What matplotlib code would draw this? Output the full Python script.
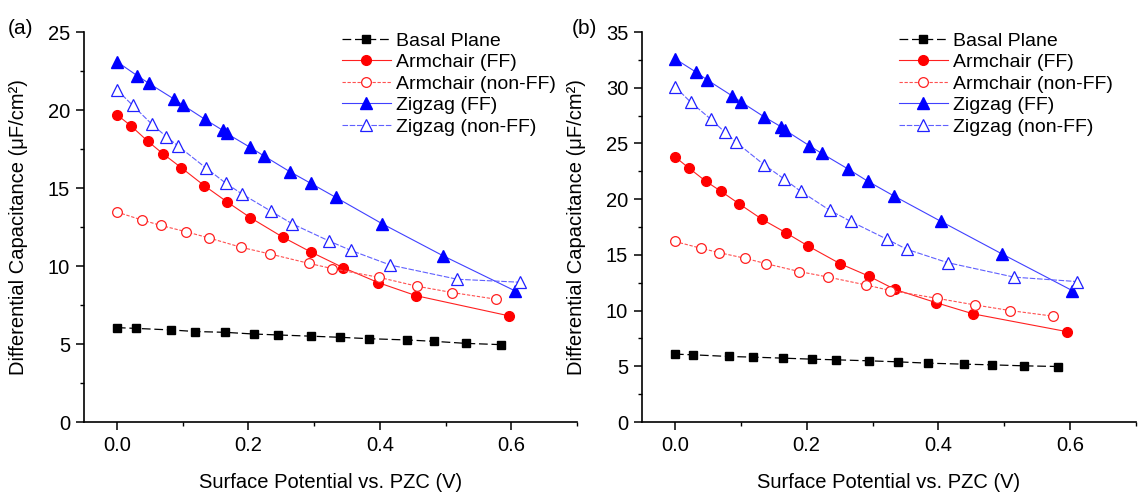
import matplotlib
matplotlib.use("Agg")
import matplotlib.pyplot as plt
from matplotlib.ticker import MultipleLocator

plt.rcParams['font.family'] = ['Liberation Sans', 'DejaVu Sans']

# ---------------- Panel (a) ----------------
basal_a_x = [0.000, 0.029, 0.083, 0.119, 0.164, 0.208, 0.245, 0.296, 0.339, 0.384, 0.441, 0.483, 0.531, 0.584]
basal_a_y = [6.05, 6.00, 5.90, 5.80, 5.75, 5.64, 5.58, 5.50, 5.43, 5.34, 5.26, 5.17, 5.04, 4.96]

armff_a_x = [0.000, 0.021, 0.047, 0.070, 0.098, 0.133, 0.168, 0.203, 0.252, 0.295, 0.344, 0.398, 0.455, 0.597]
armff_a_y = [19.7, 19.0, 18.0, 17.2, 16.3, 15.15, 14.1, 13.1, 11.86, 10.9, 9.9, 8.93, 8.1, 6.8]

armnff_a_x = [0.000, 0.038, 0.067, 0.105, 0.140, 0.189, 0.233, 0.292, 0.328, 0.399, 0.457, 0.510, 0.577]
armnff_a_y = [13.46, 12.95, 12.6, 12.2, 11.8, 11.2, 10.77, 10.17, 9.83, 9.27, 8.7, 8.3, 7.87]

zzff_a_x = [0.000, 0.031, 0.049, 0.087, 0.101, 0.134, 0.161, 0.167, 0.203, 0.224, 0.263, 0.295, 0.333, 0.404, 0.496, 0.606]
zzff_a_y = [23.1, 22.2, 21.7, 20.7, 20.3, 19.4, 18.7, 18.5, 17.6, 17.05, 16.05, 15.3, 14.4, 12.7, 10.66, 8.4]

zznff_a_x = [0.000, 0.024, 0.053, 0.075, 0.093, 0.135, 0.166, 0.191, 0.235, 0.267, 0.323, 0.356, 0.416, 0.518, 0.613]
zznff_a_y = [21.3, 20.3, 19.1, 18.3, 17.7, 16.3, 15.3, 14.6, 13.5, 12.7, 11.6, 11.0, 10.06, 9.15, 8.96]

# ---------------- Panel (b) ----------------
basal_b_x = [0.000, 0.028, 0.082, 0.119, 0.164, 0.208, 0.245, 0.295, 0.338, 0.384, 0.439, 0.481, 0.530, 0.582]
basal_b_y = [6.09, 6.03, 5.88, 5.82, 5.73, 5.64, 5.58, 5.49, 5.40, 5.28, 5.19, 5.13, 5.04, 4.98]

armff_b_x = [0.000, 0.021, 0.047, 0.070, 0.097, 0.132, 0.168, 0.202, 0.251, 0.294, 0.334, 0.397, 0.453, 0.596]
armff_b_y = [23.8, 22.8, 21.6, 20.7, 19.6, 18.2, 17.0, 15.8, 14.2, 13.1, 11.9, 10.7, 9.7, 8.1]

armnff_b_x = [0.000, 0.039, 0.067, 0.106, 0.139, 0.189, 0.233, 0.290, 0.327, 0.398, 0.456, 0.509, 0.574]
armnff_b_y = [16.2, 15.6, 15.2, 14.7, 14.2, 13.5, 13.0, 12.3, 11.8, 11.1, 10.5, 10.0, 9.5]

zzff_b_x = [0.000, 0.032, 0.049, 0.086, 0.101, 0.135, 0.161, 0.167, 0.204, 0.223, 0.263, 0.293, 0.332, 0.404, 0.496, 0.603]
zzff_b_y = [32.6, 31.4, 30.7, 29.3, 28.7, 27.4, 26.5, 26.2, 24.8, 24.1, 22.7, 21.6, 20.3, 18.0, 15.1, 11.8]

zznff_b_x = [0.000, 0.024, 0.054, 0.076, 0.093, 0.135, 0.166, 0.191, 0.235, 0.267, 0.322, 0.352, 0.414, 0.515, 0.611]
zznff_b_y = [30.1, 28.7, 27.2, 26.0, 25.1, 23.1, 21.8, 20.7, 19.0, 18.0, 16.4, 15.5, 14.3, 13.0, 12.6]

series_names = ["Basal Plane", "Armchair (FF)", "Armchair (non-FF)", "Zigzag (FF)", "Zigzag (non-FF)"]
x_label = "Surface Potential vs. PZC (V)"
y_label = "Differential Capacitance (\u03bcF/cm\u00b2)"

styles = [
    dict(color='black', marker='s', mfc='black', mec='black', ms=6, ls=(0, (7, 3)), lw=0.9),
    dict(color='#ff2020', marker='o', mfc='#ff0000', mec='#ff0000', ms=7, ls='-', lw=0.8),
    dict(color='#ff5050', marker='o', mfc='white', mec='#ff2020', ms=7, ls=(0, (3, 1.5)), lw=0.8, mew=0.9),
    dict(color='#4040ff', marker='^', mfc='#0000ff', mec='#0000ff', ms=8, ls='-', lw=0.8),
    dict(color='#6060ff', marker='^', mfc='white', mec='#2020ff', ms=8, ls=(0, (5, 1.5)), lw=0.8, mew=0.9),
]

fig = plt.figure(figsize=(11.38, 4.95), dpi=100)
axA = fig.add_axes([84/1138, 73/495, 493/1138, 390/495])
axB = fig.add_axes([642/1138, 73/495, 494/1138, 390/495])

panels = [
    (axA, [(basal_a_x, basal_a_y), (armff_a_x, armff_a_y), (armnff_a_x, armnff_a_y),
           (zzff_a_x, zzff_a_y), (zznff_a_x, zznff_a_y)], 25, 342),
    (axB, [(basal_b_x, basal_b_y), (armff_b_x, armff_b_y), (armnff_b_x, armnff_b_y),
           (zzff_b_x, zzff_b_y), (zznff_b_x, zznff_b_y)], 35, 899),
]

for ax, data, ymax, legx in panels:
    for (xs, ys), name, st in zip(data, series_names, styles):
        ax.plot(xs, ys, label=name, clip_on=False, **st)
    ax.set_xlim(-0.05, 0.7)
    ax.set_ylim(0, ymax)
    ax.spines['top'].set_visible(False)
    ax.spines['right'].set_visible(False)
    for s in ('left', 'bottom'):
        ax.spines[s].set_linewidth(1.2)
    ax.xaxis.set_major_locator(MultipleLocator(0.2))
    ax.xaxis.set_minor_locator(MultipleLocator(0.1))
    ax.yaxis.set_major_locator(MultipleLocator(5))
    ax.yaxis.set_minor_locator(MultipleLocator(2.5))
    ax.tick_params(which='major', direction='out', length=6, width=1.1, labelsize=14.5, pad=4)
    ax.tick_params(which='minor', direction='out', length=3, width=1.0)
    ax.set_xticks([0.0, 0.2, 0.4, 0.6])
    ax.set_xticklabels(['0.0', '0.2', '0.4', '0.6'])
    ax.set_xlabel(x_label, fontsize=14.5, labelpad=13)
    ax.set_ylabel(y_label, fontsize=14.5, labelpad=14)
    ax.legend(loc='upper left', bbox_to_anchor=(legx/1138, 1 - 32/495), bbox_transform=fig.transFigure,
              frameon=False, fontsize=14, handlelength=2.5, handletextpad=0.3,
              labelspacing=0.2, borderpad=0, borderaxespad=0, numpoints=1)

fig.text(8/1138, 1 - 28/495, "(a)", fontsize=15, va='center', ha='left')
fig.text(572/1138, 1 - 28/495, "(b)", fontsize=15, va='center', ha='left')

fig.savefig("out.png", dpi=100, facecolor='white')
